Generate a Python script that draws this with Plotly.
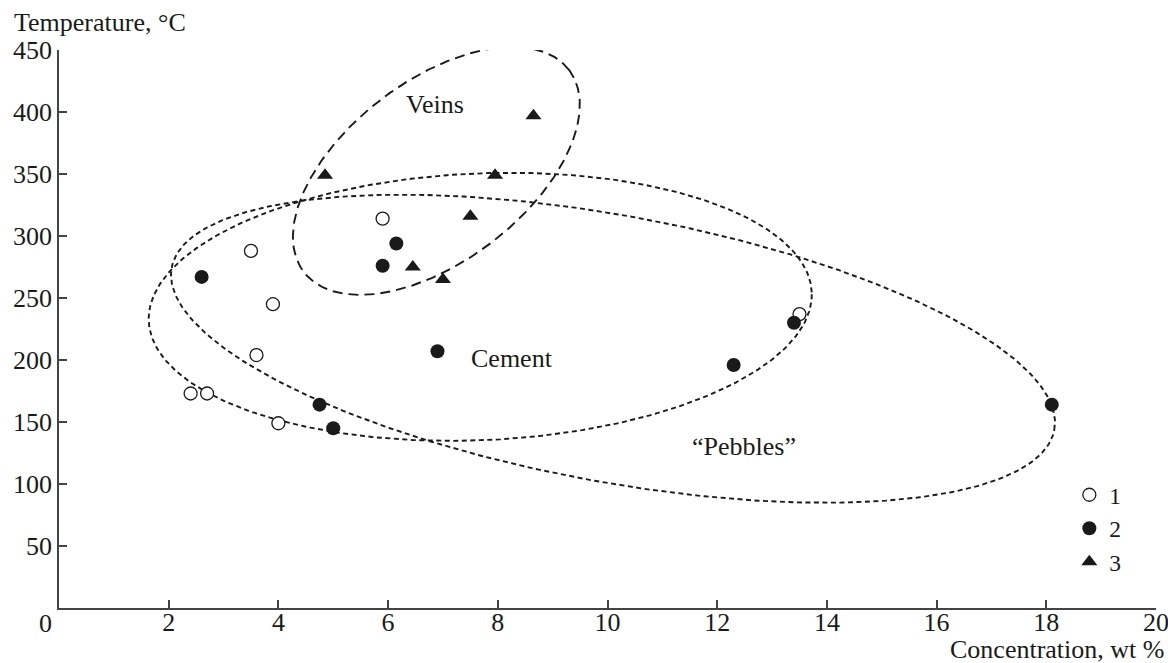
import numpy as np
import plotly.graph_objects as go

# ---- data ----
s1_x = [2.4, 2.7, 3.5, 3.9, 3.6, 4.0, 5.9, 13.5]
s1_y = [173, 173, 288, 245, 204, 149, 314, 237]

s2_x = [2.6, 6.15, 5.9, 6.9, 4.75, 5.0, 13.4, 12.3, 18.1]
s2_y = [267, 294, 276, 207, 164, 145, 230, 196, 164]

s3_x = [4.85, 8.65, 7.95, 7.5, 6.45, 7.0]
s3_y = [349, 397, 349, 316, 275, 265]

series_names = ["1", "2", "3"]

# field outlines (ellipses): centre in data units, semi-axes in screen px, tilt in degrees
ell_names = ["Veins", "Cement", "Pebbles"]
ell_cx = [6.88, 7.68, 10.10]
ell_cy = [352.5, 242.9, 209.1]
ell_a = [166.7, 331.8, 448.7]
ell_b = [90.4, 133.4, 133.2]
ell_tilt = [37.3, 2.5, -10.4]

label_text = ["Veins", "Cement", "\u201cPebbles\u201d"]
label_x = [6.85, 8.26, 12.49]
label_y = [406, 201, 130]

x_ticks = [2, 4, 6, 8, 10, 12, 14, 16, 18, 20]
y_ticks = [50, 100, 150, 200, 250, 300, 350, 400, 450]

# ---- layout geometry ----
W, H = 1168, 663
ML, MR, MT, MB = 59, 12, 50, 55
XR = [0, 20]
YR = [0, 450]
sx = (W - ML - MR) / (XR[1] - XR[0])
sy = (H - MT - MB) / (YR[1] - YR[0])

FONT = "Liberation Serif, Times New Roman, serif"
FS = 26
INK = "#1a1a1a"
AX = "#444444"

fig = go.Figure()

dashes = ["10px,6px", "5px,3.5px", "5px,3.5px"]
t = np.linspace(0, 2 * np.pi, 400)
for i in range(len(ell_names)):
    th = np.deg2rad(ell_tilt[i])
    X = ell_a[i] * np.cos(t) * np.cos(th) - ell_b[i] * np.sin(t) * np.sin(th)
    Y = ell_a[i] * np.cos(t) * np.sin(th) + ell_b[i] * np.sin(t) * np.cos(th)
    fig.add_trace(go.Scatter(
        x=ell_cx[i] + X / sx, y=ell_cy[i] + Y / sy, mode="lines",
        line=dict(color=INK, width=1.9, dash=dashes[i]),
        showlegend=False, hoverinfo="skip", cliponaxis=False))

fig.add_trace(go.Scatter(x=s1_x, y=s1_y, mode="markers", name=series_names[0],
                         marker=dict(symbol="circle", size=13, color="white",
                                     line=dict(color=INK, width=1.3))))
fig.add_trace(go.Scatter(x=s2_x, y=s2_y, mode="markers", name=series_names[1],
                         marker=dict(symbol="circle", size=14, color=INK,
                                     line=dict(color=INK, width=0))))
fig.add_trace(go.Scatter(x=s3_x, y=s3_y, mode="markers", name=series_names[2],
                         marker=dict(symbol="triangle-up", size=14, color=INK,
                                     line=dict(color=INK, width=0))))

for txt, lx, ly in zip(label_text, label_x, label_y):
    fig.add_annotation(x=lx, y=ly, text=txt, showarrow=False,
                       font=dict(family=FONT, size=FS, color=INK))

# axis titles and the corner zero
fig.add_annotation(xref="paper", yref="paper", x=1, y=0, xanchor="right", yanchor="middle",
                   xshift=10, yshift=-41, text="Concentration, wt %", showarrow=False,
                   font=dict(family=FONT, size=FS, color=INK))
fig.add_annotation(xref="paper", yref="paper", x=0, y=1, xanchor="left", yanchor="middle",
                   xshift=-47, yshift=28, text="Temperature, \u00b0C", showarrow=False,
                   font=dict(family=FONT, size=FS, color=INK))
fig.add_annotation(xref="paper", yref="paper", x=0, y=0, xanchor="center", yanchor="middle",
                   xshift=-14, yshift=-15, text="0", showarrow=False,
                   font=dict(family=FONT, size=FS, color=INK))

fig.update_layout(
    width=W, height=H,
    margin=dict(l=ML, r=MR, t=MT, b=MB, autoexpand=False),
    paper_bgcolor="white", plot_bgcolor="white",
    font=dict(family=FONT, size=FS, color=INK),
    legend=dict(x=0.921, y=0.242, xanchor="left", yanchor="top",
                bgcolor="rgba(0,0,0,0)", font=dict(family=FONT, size=23.5, color=INK),
                itemwidth=30, tracegroupgap=0),
    xaxis=dict(range=XR, tickvals=x_ticks, ticktext=[str(v) for v in x_ticks],
               automargin=False, ticklabelstandoff=-10, ticklabeloverflow="allow",
               showgrid=False, zeroline=False, showline=True, linecolor=AX, linewidth=1.5,
               ticks="inside", ticklen=8, tickwidth=1.5, tickcolor=AX,
               tickfont=dict(family=FONT, size=FS, color=INK)),
    yaxis=dict(range=YR, tickvals=y_ticks, ticktext=[str(v) for v in y_ticks],
               automargin=False, ticklabeloverflow="allow",
               showgrid=False, zeroline=False, showline=True, linecolor=AX, linewidth=1.5,
               ticks="inside", ticklen=8, tickwidth=1.5, tickcolor=AX,
               tickfont=dict(family=FONT, size=FS, color=INK)),
)

fig.write_html(
    "out.html",
    config={"displayModeBar": False},
    post_script="document.body.style.margin='0px';"
                "document.body.style.padding='0px';"
                "document.documentElement.style.overflow='hidden';"
                "document.body.style.overflow='hidden';",
)
